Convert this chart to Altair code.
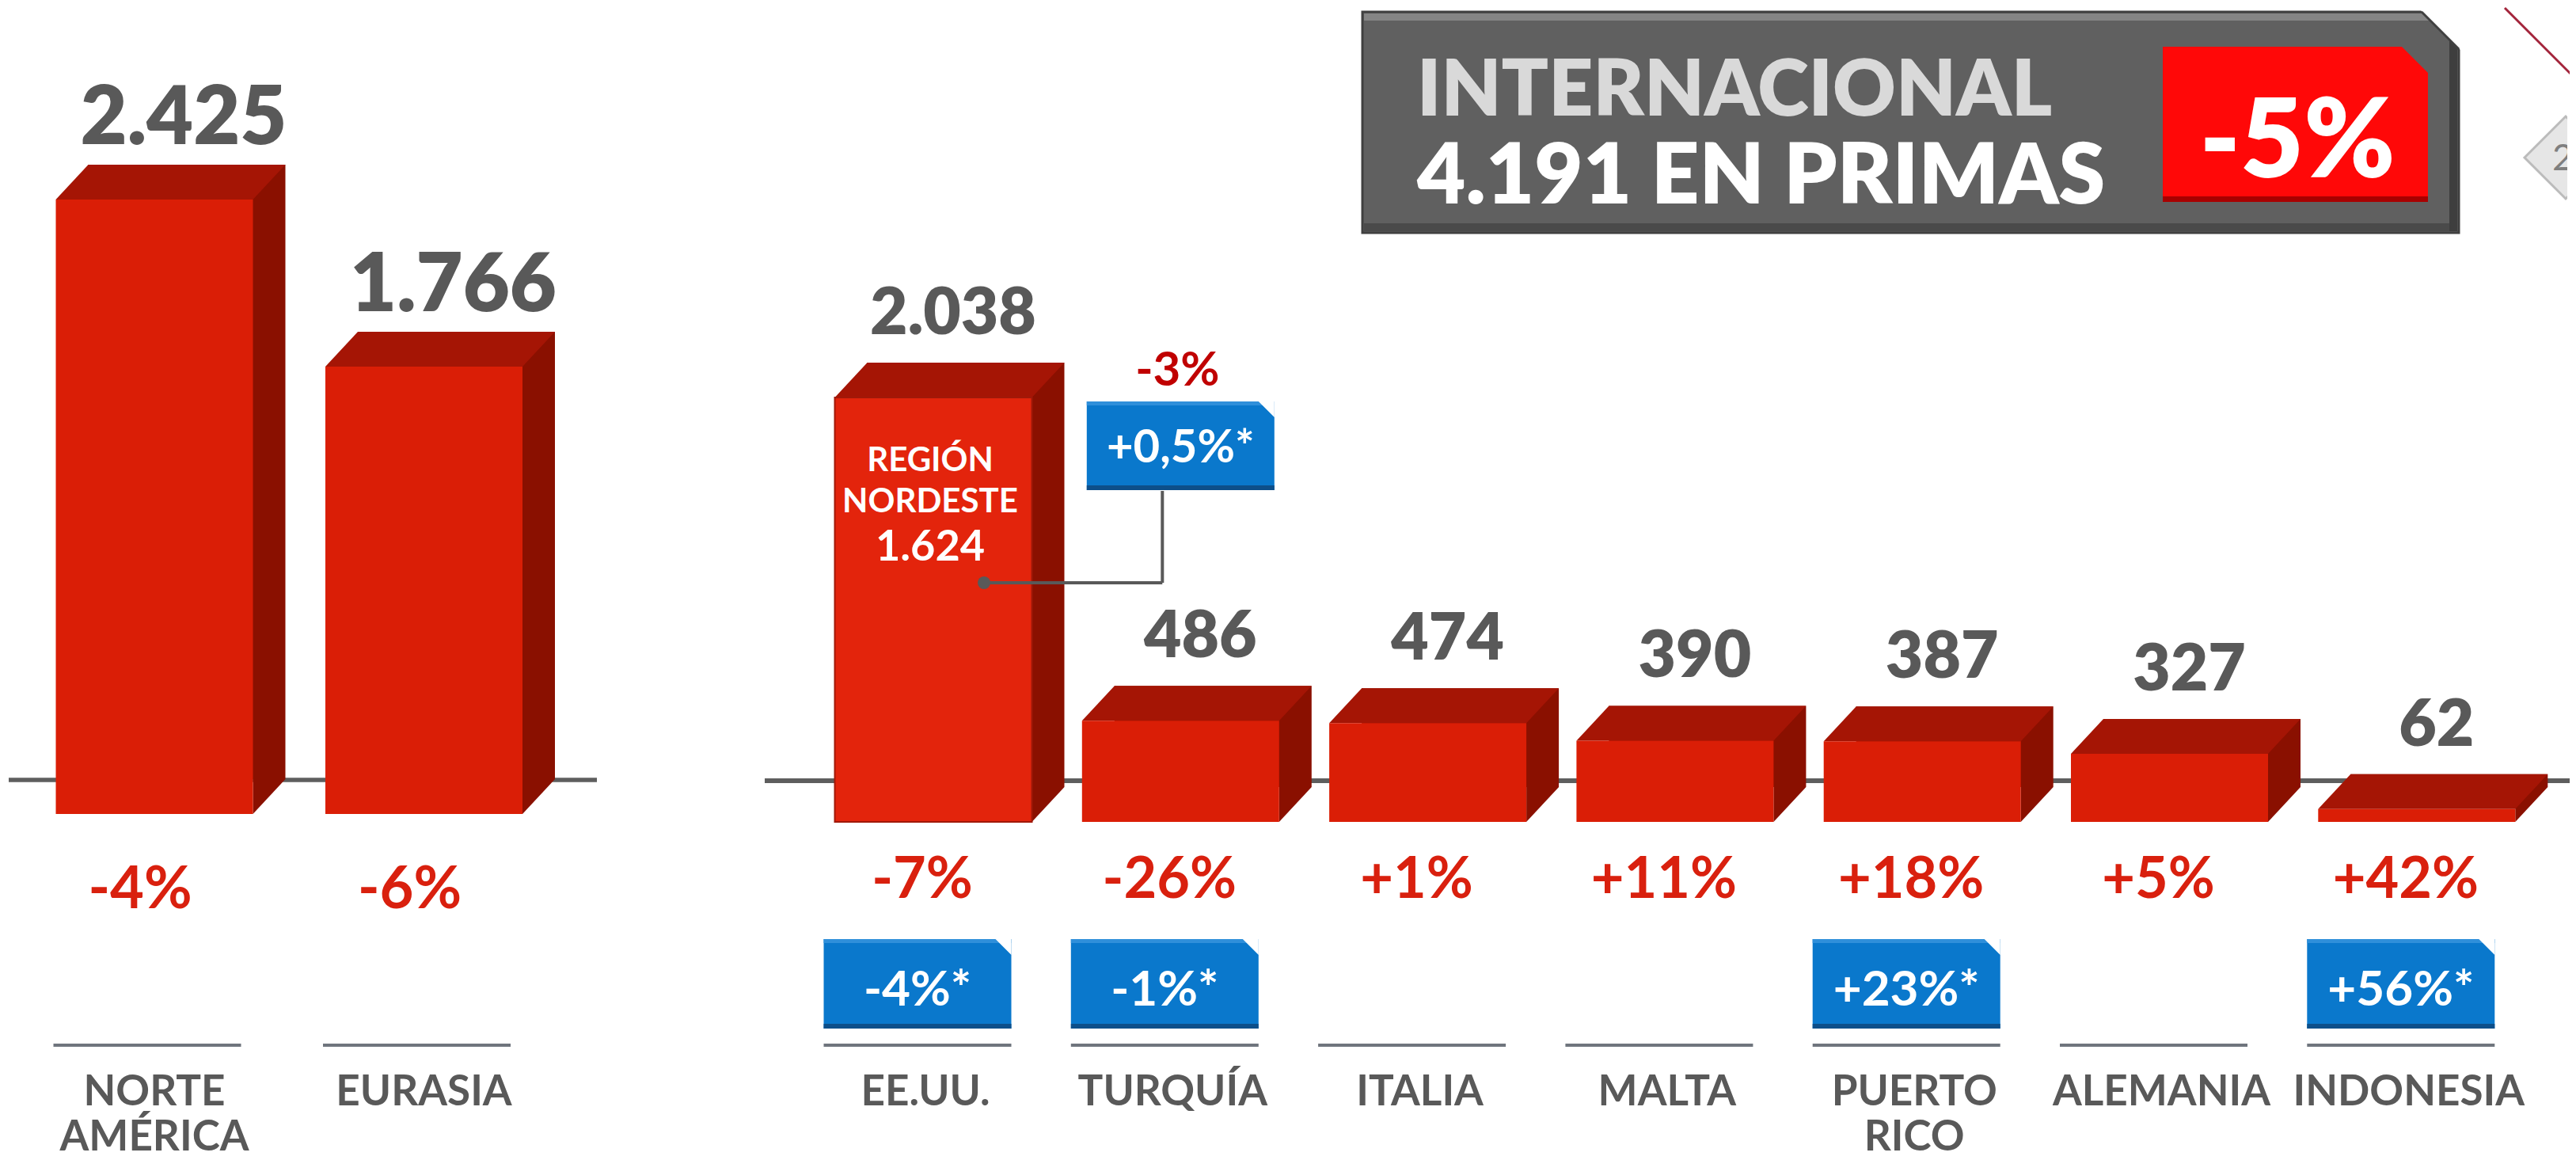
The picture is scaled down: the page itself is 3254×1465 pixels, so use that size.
import altair as alt
import pandas as pd

# ---------------- data ----------------
left_cats = ["NORTE AMÉRICA", "EURASIA"]
left_values = [2425, 1766]
left_changes = ["-4%", "-6%"]

right_cats = ["EE.UU.", "TURQUÍA", "ITALIA", "MALTA", "PUERTO RICO", "ALEMANIA", "INDONESIA"]
right_values = [2038, 486, 474, 390, 387, 327, 62]
right_changes = ["-7%", "-26%", "+1%", "+11%", "+18%", "+5%", "+42%"]
right_local_changes = ["-4%*", "-1%*", "", "", "+23%*", "", "+56%*"]

region_cat = "EE.UU."
region_name = ["REGIÓN", "NORDESTE"]
region_value = "1.624"
region_change = "-3%"
region_local_change = "+0,5%*"
region_anchor = "TURQUÍA"

header_title = "INTERNACIONAL"
header_total = "4.191 EN PRIMAS"
header_change = "-5%"
corner_badge = "20"

# ---------------- styling / layout ----------------
W, H = 3238, 1449
FONT = "Lato"
GRAY_TXT = "#595959"
FRONT, TOPC, SIDE = "#DA1E06", "#A51505", "#8A1000"
RED_TXT = "#D9200E"
BLUE = "#0A78CC"
LINE_GRAY = "#6F757D"

DX, DY = 41, 44
BAR_W = 249
HALF = (BAR_W + DX) / 2

L_c0, L_step = 186, 340.5
L_pi = 1 - BAR_W / L_step
L_r0 = L_c0 - BAR_W / 2
L_r1 = L_r0 + L_step * (len(left_cats) - L_pi)
L_zero, L_k = 1018, 0.320

R_c0, R_step = 1170, 312.3
R_pi = 1 - BAR_W / R_step
R_r0 = R_c0 - BAR_W / 2
R_r1 = R_r0 + R_step * (len(right_cats) - R_pi)
R_zero, R_k = 1028, 0.263

xL = alt.Scale(domain=left_cats, range=[L_r0, L_r1], paddingInner=L_pi, paddingOuter=0, round=False)
yL = alt.Scale(domain=[0, 3000], range=[L_zero, L_zero - 3000 * L_k], nice=False, zero=False)
xR = alt.Scale(domain=right_cats, range=[R_r0, R_r1], paddingInner=R_pi, paddingOuter=0, round=False)
yR = alt.Scale(domain=[0, 3500], range=[R_zero, R_zero - 3500 * R_k], nice=False, zero=False)

TOP_PATH = "M -1 {a} L {b} -{a} L 1 -{a} L {c} {a} Z".format(
    a=round(DY / 2 / HALF, 4), b=round((-HALF + DX) / HALF, 4), c=round((HALF - DX) / HALF, 4))
BR_PATH = "M -{a} -1 L {a} -1 L -{a} 1 Z".format(a=round((DX / 2) / (DY / 2), 4))
TR_PATH = "M -1 -1 L 1 -1 L 1 1 Z"

left_df = pd.DataFrame({"cat": left_cats, "value": left_values, "pct": left_changes})
right_df = pd.DataFrame({"cat": right_cats, "value": right_values, "pct": right_changes,
                         "local": right_local_changes})


def bar_group(df, xs, ys, val_dx, val_dy, val_size, pct_y, pct_size, pct_dx, line_dx,
              base_x0, base_x1, base_off, cat_y, cat_dx):
    base = alt.Chart(df).transform_calculate(
        vlabel="replace(format(datum.value, ','), ',', '.')",
        lines="split(datum.cat, ' ')",
    )
    X = alt.X("cat:N", scale=xs, axis=None, sort=None)
    Y = alt.Y("value:Q", scale=ys, axis=None)
    zero = alt.YDatum(0, scale=ys, axis=None)
    zero2 = alt.datum(0)
    layers = [
        base.mark_rule(color="#5E5E5E", strokeWidth=5, yOffset=base_off).encode(
            x=alt.value(base_x0), x2=alt.value(base_x1), y=zero),
        base.mark_bar(color=SIDE, xOffset=DX, yOffset=-DY, y2Offset=-DY).encode(x=X, y=Y, y2=zero2),
        base.mark_point(shape=BR_PATH, size=DY ** 2, filled=True, color=SIDE, opacity=1,
                        strokeWidth=0, xOffset=BAR_W / 2 + DX / 2, yOffset=-DY / 2).encode(x=X, y=zero),
        base.mark_point(shape=TOP_PATH, size=(2 * HALF) ** 2, filled=True, color=TOPC, opacity=1,
                        strokeWidth=0, xOffset=DX / 2, yOffset=-DY / 2).encode(x=X, y=Y),
        base.mark_bar(color=FRONT).encode(x=X, y=Y, y2=zero2),
        base.mark_text(font=FONT, fontWeight=800, fontSize=val_size, color=GRAY_TXT,
                       dx=val_dx, dy=val_dy, baseline="alphabetic").encode(x=X, y=Y, text="vlabel:N"),
        base.mark_text(font=FONT, fontWeight="bold", fontSize=pct_size, color=RED_TXT,
                       dx=pct_dx, baseline="alphabetic").encode(x=X, y=alt.value(pct_y), text="pct:N"),
        base.mark_bar(width=237, xOffset=line_dx, color=LINE_GRAY).encode(
            x=X, y=alt.value(1308), y2=alt.value(1312)),
        base.mark_text(font=FONT, fontWeight="bold", fontSize=53, color=GRAY_TXT, dx=cat_dx,
                       baseline="alphabetic", lineHeight=57).encode(x=X, y=alt.value(cat_y), text="lines:N"),
    ]
    return layers


left_layers = bar_group(left_df, xL, yL, 37, -70, 102, 1137, 74, -18, -9, 2, 745, -43, 1386, 0)
left_chart = alt.layer(*left_layers)

right_layers = bar_group(right_df, xR, yR, 25, -80, 82, 1124, 72, -14, -20, 957, W, -52, 1386, -10)

XR = alt.X("cat:N", scale=xR, axis=None, sort=None)
YR = alt.Y("value:Q", scale=yR, axis=None)

# region box in EE.UU.
reg_bar = alt.Chart(right_df).transform_filter(alt.datum.cat == region_cat)
region_df = pd.DataFrame({"cat": [region_cat], "anchor": [region_anchor],
                          "name": [region_name], "val": [region_value],
                          "chg": [region_change], "loc": [region_local_change]})
reg = alt.Chart(region_df)
XA = alt.X("anchor:N", scale=xR, axis=None, sort=None)
XC = alt.X("cat:N", scale=xR, axis=None, sort=None)

c_ee = R_c0
c_tu = R_c0 + R_step
dot_x = c_ee + 64
conn_x = c_tu - 23

right_layers += [
    reg_bar.mark_bar(color="#E3240C", stroke="#A01808", strokeWidth=2).encode(
        x=XR, y=YR, y2=alt.value(791)),
    reg.mark_text(font=FONT, fontWeight="bold", fontSize=42, color="white", dx=-4,
                  baseline="alphabetic", lineHeight=52).encode(x=XC, y=alt.value(585), text="name:N"),
    reg.mark_text(font=FONT, fontWeight="bold", fontSize=54, color="white", dx=-4,
                  baseline="alphabetic").encode(x=XC, y=alt.value(698), text="val:N"),
    reg.mark_rule(color=GRAY_TXT, strokeWidth=4).encode(
        x=alt.value(dot_x), x2=alt.value(conn_x), y=alt.value(726)),
    reg.mark_rule(color=GRAY_TXT, strokeWidth=4).encode(
        x=alt.value(conn_x), y=alt.value(726), y2=alt.value(610)),
    reg.mark_point(filled=True, size=256, color=GRAY_TXT, opacity=1, xOffset=64).encode(
        x=XC, y=alt.value(726)),
    reg.mark_text(font=FONT, fontWeight="bold", fontSize=60, color="#C00000", dx=-4,
                  baseline="alphabetic").encode(x=XA, y=alt.value(477), text="chg:N"),
    reg.mark_bar(width=237, color=BLUE).encode(x=XA, y=alt.value(497), y2=alt.value(609)),
    reg.mark_bar(width=237, color="#2F8FDA").encode(x=XA, y=alt.value(497), y2=alt.value(502)),
    reg.mark_bar(width=237, color="#0D4F8A").encode(x=XA, y=alt.value(603), y2=alt.value(609)),
    reg.mark_point(shape=TR_PATH, size=400, filled=True, color="white", opacity=1, strokeWidth=0,
                   xOffset=108.5).encode(x=XA, y=alt.value(507)),
    reg.mark_text(font=FONT, fontWeight="bold", fontSize=58, color="white",
                  baseline="alphabetic").encode(x=XA, y=alt.value(574), text="loc:N"),
]

# lower blue boxes
blue = alt.Chart(right_df).transform_filter(alt.datum.local != "")
right_layers += [
    blue.mark_bar(width=237, xOffset=-20, color=BLUE).encode(x=XR, y=alt.value(1176), y2=alt.value(1289)),
    blue.mark_bar(width=237, xOffset=-20, color="#2F8FDA").encode(x=XR, y=alt.value(1176), y2=alt.value(1181)),
    blue.mark_bar(width=237, xOffset=-20, color="#0D4F8A").encode(x=XR, y=alt.value(1283), y2=alt.value(1289)),
    blue.mark_point(shape=TR_PATH, size=400, filled=True, color="white", opacity=1, strokeWidth=0,
                    xOffset=-20 + 108.5).encode(x=XR, y=alt.value(1186)),
    blue.mark_text(font=FONT, fontWeight="bold", fontSize=62, color="white", dx=-20,
                   baseline="alphabetic").encode(x=XR, y=alt.value(1260), text="local:N"),
]

# header box
hdr_df = pd.DataFrame({"title": [header_title], "total": [header_total], "chg": [header_change],
                       "badge": [corner_badge]})
hdr = alt.Chart(hdr_df)


def rect(x0, x1, y0, y1, color, **kw):
    return hdr.mark_rect(color=color, **kw).encode(
        x=alt.value(x0), x2=alt.value(x1), y=alt.value(y0), y2=alt.value(y1))


right_layers += [
    rect(1712, 3097, 5, 284, "#606060", stroke="#404040", strokeWidth=3),
    rect(1714, 3095, 7, 16, "#858585"),
    rect(1714, 3095, 272, 282, "#4A4A4A"),
    rect(3085, 3095, 7, 282, "#3E3E3E"),
    hdr.mark_point(shape=TR_PATH, size=2500, filled=True, color="white", opacity=1, strokeWidth=0).encode(
        x=alt.value(3074), y=alt.value(28)),
    hdr.mark_rule(color="#404040", strokeWidth=3).encode(
        x=alt.value(3050), x2=alt.value(3097), y=alt.value(5), y2=alt.value(52)),
    rect(2723, 3058, 49, 245, "#FF0808"),
    rect(2723, 3058, 238, 245, "#A80000"),
    hdr.mark_point(shape=TR_PATH, size=33 ** 2, filled=True, color="#606060", opacity=1, strokeWidth=0).encode(
        x=alt.value(3058 - 16.5), y=alt.value(49 + 16.5)),
    hdr.mark_text(font=FONT, fontWeight=800, fontSize=98, color="#D9D9D9", align="left",
                  baseline="alphabetic").encode(x=alt.value(1781), y=alt.value(136), text="title:N"),
    hdr.mark_text(font=FONT, fontWeight=800, fontSize=106, color="white", align="left",
                  baseline="alphabetic").encode(x=alt.value(1781), y=alt.value(247), text="total:N"),
    hdr.mark_text(font=FONT, fontWeight=800, fontSize=138, color="white", align="center",
                  baseline="alphabetic").encode(x=alt.value(2893), y=alt.value(214), text="chg:N"),
    # corner decorations
    hdr.mark_rule(color="#A3243B", strokeWidth=3).encode(
        x=alt.value(3155), x2=alt.value(3238), y=alt.value(0), y2=alt.value(83)),
    hdr.mark_point(shape="diamond", size=104 ** 2, filled=True, color="#E6E6E6", stroke="#BBBBBB",
                   strokeWidth=3, opacity=1, clip=True).encode(x=alt.value(3232), y=alt.value(189)),
    hdr.mark_text(font=FONT, fontSize=46, color="#7F7F7F", align="left", baseline="alphabetic",
                  clip=True).encode(x=alt.value(3215), y=alt.value(205), text="badge:N"),
]

right_chart = alt.layer(*right_layers)

chart = alt.layer(left_chart, right_chart).resolve_scale(
    x="independent", y="independent"
).properties(
    width=W, height=H, padding=0,
    autosize=alt.AutoSizeParams(type="fit", contains="padding"),
).configure_view(stroke=None)

chart.save("out.html", embed_options={"renderer": "svg", "actions": False})
